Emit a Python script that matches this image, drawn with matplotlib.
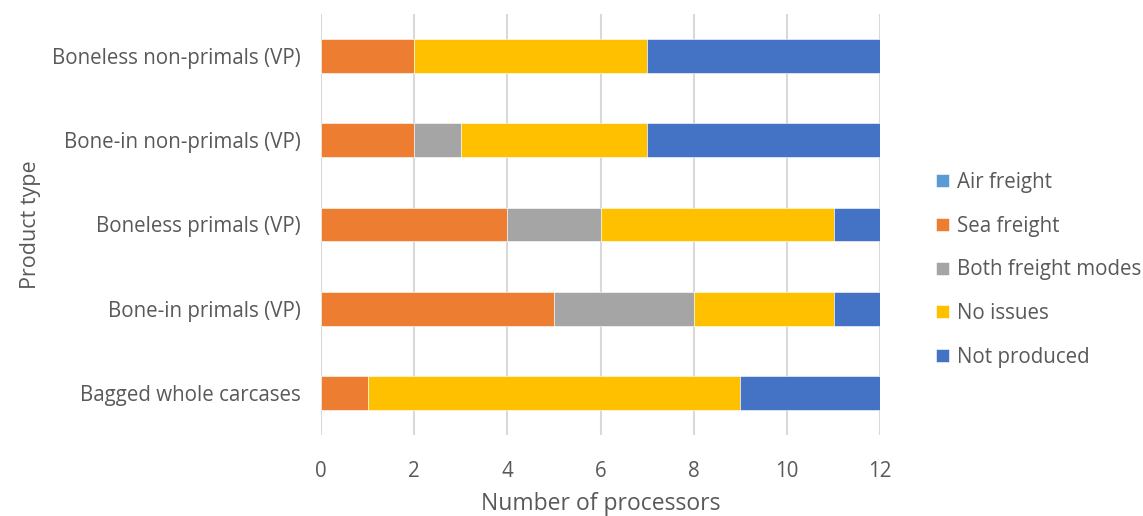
import matplotlib
matplotlib.use("Agg")
import matplotlib.pyplot as plt
import numpy as np

categories = ["Bagged whole carcases", "Bone-in primals (VP)", "Boneless primals (VP)",
              "Bone-in non-primals (VP)", "Boneless non-primals (VP)"]
series_names = ["Air freight", "Sea freight", "Both freight modes", "No issues", "Not produced"]
air_freight = [0, 0, 0, 0, 0]
sea_freight = [1, 5, 4, 2, 2]
both_modes = [0, 3, 2, 1, 0]
no_issues = [8, 3, 5, 4, 5]
not_produced = [3, 1, 1, 5, 5]
colors = ["#5B9BD5", "#ED7D31", "#A5A5A5", "#FFC000", "#4472C4"]
xticks = [0, 2, 4, 6, 8, 10, 12]

plt.rcParams["font.family"] = ["Open Sans", "DejaVu Sans"]
text_color = "#595959"

fig = plt.figure(figsize=(11.43, 5.16), dpi=100)
ax = fig.add_axes([0.281, 0.157, 0.489, 0.816])

y = np.arange(len(categories))
left = np.zeros(len(categories))
handles = []
for name, vals, c in zip(series_names, [air_freight, sea_freight, both_modes, no_issues, not_produced], colors):
    vals = np.array(vals, dtype=float)
    h = ax.barh(y, vals, left=left, height=0.4, color=c, edgecolor="white", linewidth=0.4, label=name, zorder=3)
    handles.append(h)
    left += vals

ax.set_xlim(0, 12)
ax.set_ylim(-0.5, len(categories) - 0.5)
ax.set_yticks(y)
ax.set_yticklabels(categories)
ax.set_xticks(xticks)
ax.xaxis.grid(True, color="#D9D9D9", linewidth=1.5, zorder=0)
ax.set_axisbelow(True)
for s in ax.spines.values():
    s.set_visible(False)
ax.tick_params(axis="y", length=0, labelsize=14.8, labelcolor=text_color, pad=15)
ax.tick_params(axis="x", length=0, labelsize=14.8, labelcolor=text_color, pad=19)
ax.set_xlabel("Number of processors", fontsize=16.5, color=text_color, labelpad=7)
ax.set_ylabel("Product type", fontsize=15.5, color=text_color, labelpad=8)

leg = fig.legend(handles=handles, labels=series_names, loc="center left",
                 bbox_to_anchor=(0.812, 0.477), frameon=False, fontsize=14.8,
                 handlelength=0.6, handleheight=0.6, handletextpad=0.4,
                 labelspacing=1.1, borderaxespad=0)
for t in leg.get_texts():
    t.set_color(text_color)

fig.savefig("out.png", dpi=100)
